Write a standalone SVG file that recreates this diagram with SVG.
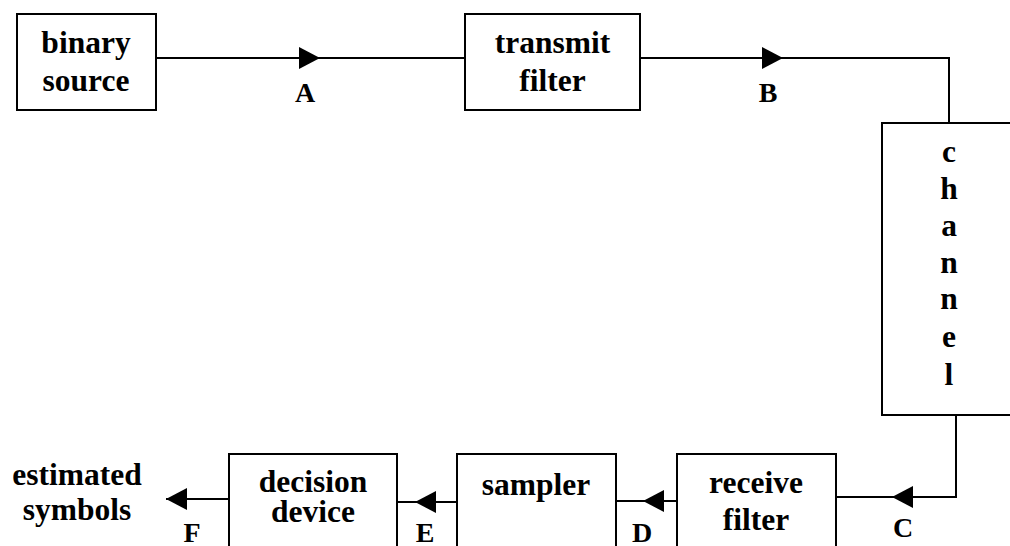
<svg xmlns="http://www.w3.org/2000/svg" width="1010" height="546" viewBox="0 0 1010 546">
<style>
.box{fill:#fff;stroke:#000;stroke-width:2}
.ln{fill:none;stroke:#000;stroke-width:2}
text{font-family:"Liberation Serif","Times New Roman",serif;font-weight:bold;font-size:31.5px;fill:#000;text-anchor:middle}
.lb{font-size:28px}
</style>
<defs>
<marker id="ah" markerUnits="userSpaceOnUse" markerWidth="22" markerHeight="22" refX="21" refY="11" orient="auto">
<path d="M0,0 L21,11 L0,22 Z" fill="#000"/>
</marker>
</defs>
<rect width="1010" height="546" fill="#fff"/>
<g id="connectors">
<path class="ln" d="M156,58 L320,58" marker-end="url(#ah)"/>
<path class="ln" d="M320,58 L465,58"/>
<path class="ln" d="M640,58 L783,58" marker-end="url(#ah)"/>
<path class="ln" d="M783,58 L949,58 L949,123"/>
<path class="ln" d="M956,415 L956,497 L892,497" marker-end="url(#ah)"/>
<path class="ln" d="M892,497 L836,497"/>
<path class="ln" d="M677,501 L643,501" marker-end="url(#ah)"/>
<path class="ln" d="M643,501 L616,501"/>
<path class="ln" d="M457,502 L415,502" marker-end="url(#ah)"/>
<path class="ln" d="M415,502 L397,502"/>
<path class="ln" d="M229,499 L166,499" marker-end="url(#ah)"/>
<text class="lb" x="305" y="102">A</text>
<text class="lb" x="768" y="102">B</text>
<text class="lb" x="903" y="537">C</text>
<text class="lb" x="642" y="542">D</text>
<text class="lb" x="425" y="542">E</text>
<text class="lb" x="192" y="542">F</text>
</g>
<g id="binary-source">
<rect class="box" x="17" y="14" width="139" height="96"/>
<text x="86" y="53">binary</text>
<text x="86" y="91">source</text>
</g>
<g id="transmit-filter">
<rect class="box" x="465" y="14" width="175" height="96"/>
<text x="552.5" y="53">transmit</text>
<text x="552.5" y="91">filter</text>
</g>
<g id="channel">
<rect class="box" x="882" y="123" width="140" height="292"/>
<text x="949" y="162">c</text>
<text x="949" y="199">h</text>
<text x="949" y="236">a</text>
<text x="949" y="273">n</text>
<text x="949" y="309">n</text>
<text x="949" y="347">e</text>
<text x="949" y="385">l</text>
</g>
<g id="receive-filter">
<rect class="box" x="677" y="454" width="159" height="110"/>
<text x="756" y="493">receive</text>
<text x="756" y="530">filter</text>
</g>
<g id="sampler">
<rect class="box" x="457" y="454" width="159" height="110"/>
<text x="536" y="495">sampler</text>
</g>
<g id="decision-device">
<rect class="box" x="229" y="454" width="168" height="110"/>
<text x="313" y="492">decision</text>
<text x="313" y="522">device</text>
</g>
<g id="estimated-symbols">
<text x="77" y="485">estimated</text>
<text x="77" y="520">symbols</text>
</g>
</svg>
